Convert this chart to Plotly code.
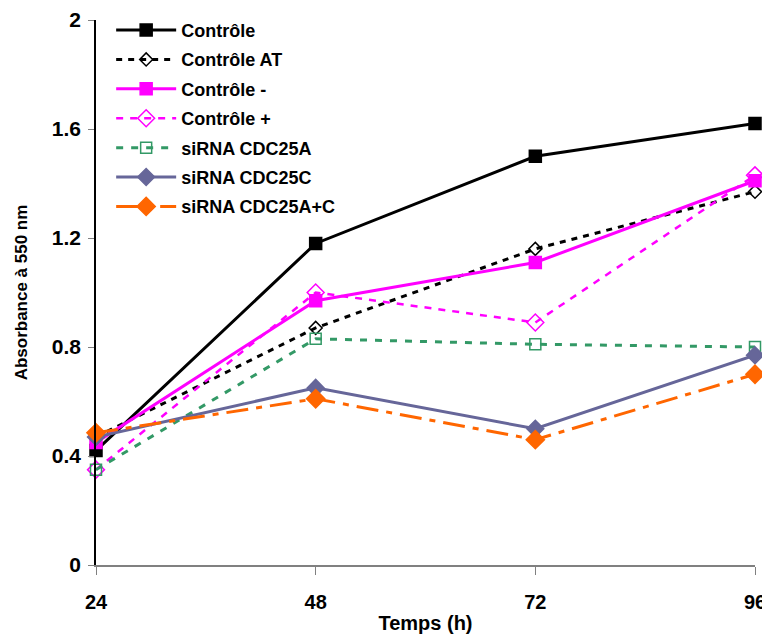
import plotly.graph_objects as go

hours = [24, 48, 72, 96]
controle = [0.42, 1.18, 1.50, 1.62]
controle_at = [0.47, 0.87, 1.16, 1.37]
controle_moins = [0.45, 0.97, 1.11, 1.41]
controle_plus = [0.35, 1.00, 0.89, 1.43]
sirna_a = [0.35, 0.83, 0.81, 0.80]
sirna_c = [0.47, 0.65, 0.50, 0.77]
sirna_ac = [0.485, 0.61, 0.46, 0.70]

series = [
    ("Contrôle", controle, "#000000", "solid", "square", 12, 3),
    ("Contrôle AT", controle_at, "#000000", "6px,6px", "diamond-open", 10, 3),
    ("Contrôle -", controle_moins, "#FF00FF", "solid", "square", 12, 3),
    ("Contrôle +", controle_plus, "#FF00FF", "7px,7px", "diamond-open", 13, 2.5),
    ("siRNA CDC25A", sirna_a, "#339966", "7px,8px", "square-open", 11, 3),
    ("siRNA CDC25C", sirna_c, "#666699", "solid", "diamond", 13, 3),
    ("siRNA CDC25A+C", sirna_ac, "#FF6600", "22px,8px,6px,8px", "diamond", 14, 3),
]

BASE = "Liberation Sans, Arial, sans-serif"

fig = go.Figure()
for i, (name, vals, color, dash, sym, size, w) in enumerate(series):
    fig.add_trace(go.Scatter(
        x=hours, y=vals, name="<b>" + name + "</b>", mode="lines+markers",
        legendgroup="g%d" % i,
        line=dict(color=color, dash=dash, width=w),
        marker=dict(symbol=sym, size=size, color=color,
                    line=dict(color=color, width=1.5)),
        cliponaxis=False,
    ))

fig.update_layout(
    width=762, height=629,
    margin=dict(l=88, r=15, t=12, b=72, autoexpand=False),
    paper_bgcolor="white", plot_bgcolor="white",
    font=dict(family=BASE, color="black"),
    showlegend=True,
    legend=dict(x=0.023, y=1.015, xanchor="left", yanchor="top",
                bgcolor="rgba(0,0,0,0)", tracegroupgap=3,
                font=dict(size=18, family=BASE, color="black"),
                itemwidth=60),
)
fig.update_xaxes(
    range=[24, 96], tickvals=hours, ticktext=["<b>%d</b>" % h for h in hours],
    showgrid=False, zeroline=False, showline=True, linecolor="#808080", linewidth=1.5,
    ticks="outside", ticklen=8, tickcolor="#808080", automargin=False,
    ticklabelstandoff=10,
    tickfont=dict(size=20, family=BASE),
    title=dict(text="<b>Temps (h)</b>", font=dict(size=20, family=BASE), standoff=4),
)
fig.update_yaxes(
    range=[0, 2], tickvals=[0, 0.4, 0.8, 1.2, 1.6, 2],
    ticktext=["<b>0</b>", "<b>0.4</b>", "<b>0.8</b>", "<b>1.2</b>", "<b>1.6</b>", "<b>2</b>"],
    showgrid=False, zeroline=False, showline=True, linecolor="black", linewidth=1.5,
    ticks="outside", ticklen=6, tickcolor="#808080", automargin=False,
    ticklabelstandoff=3,
    tickfont=dict(size=21, family=BASE),
    title=dict(text="<b>Absorbance à 550 nm</b>", font=dict(size=17, family=BASE), standoff=20),
)

fig.write_html("out.html")
